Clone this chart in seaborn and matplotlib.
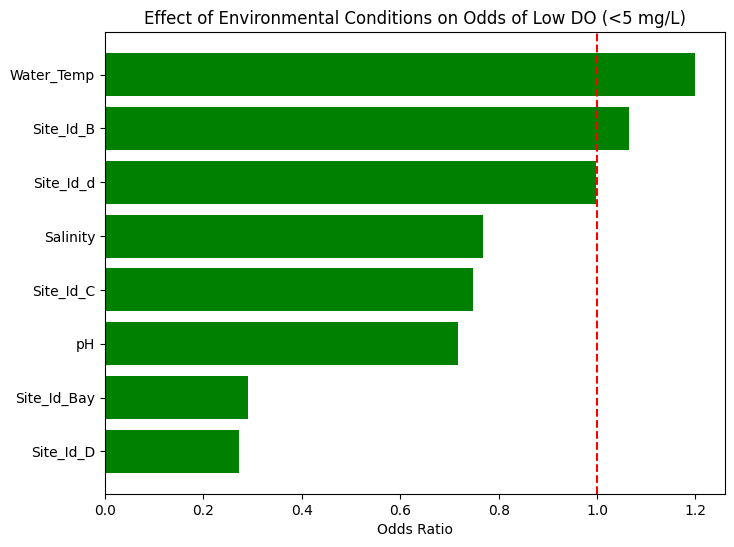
import matplotlib
matplotlib.use("Agg")
import matplotlib.pyplot as plt
import seaborn as sns
import pandas as pd

features = ["Water_Temp", "Site_Id_B", "Site_Id_d", "Salinity",
            "Site_Id_C", "pH", "Site_Id_Bay", "Site_Id_D"]
odds_ratios = [1.200, 1.065, 0.998, 0.768, 0.748, 0.718, 0.290, 0.272]

df = pd.DataFrame({"Feature": features, "Odds Ratio": odds_ratios})

fig = plt.figure(figsize=(7.34, 5.47), dpi=100)
ax = fig.add_axes([105 / 734, 53 / 547, 620 / 734, 462 / 547])

sns.barplot(data=df, x="Odds Ratio", y="Feature", orient="h",
            color="green", saturation=1, width=0.8, ax=ax)

# reference line at odds ratio 1
ax.axvline(1, color="red", linestyle="--")

n = len(features)
pad = (n - 1 + 0.8) * 0.05
ax.set_ylim(n - 1 + 0.4 + pad, -0.4 - pad)
ax.set_xlim(0, max(odds_ratios) * 1.05)

ax.set_xlabel("Odds Ratio")
ax.set_ylabel("")
ax.set_title("Effect of Environmental Conditions on Odds of Low DO (<5 mg/L)")

fig.savefig("out.png", dpi=100)
